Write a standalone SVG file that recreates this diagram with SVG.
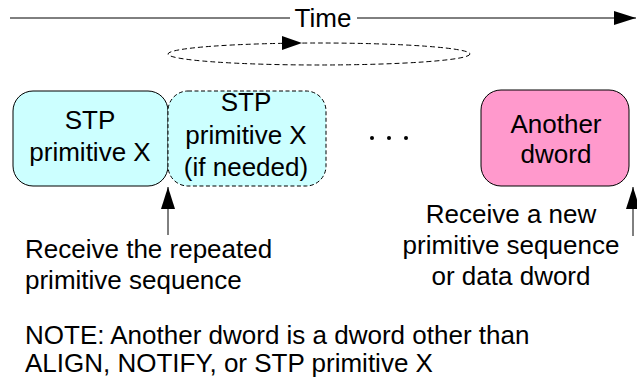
<svg xmlns="http://www.w3.org/2000/svg" width="637" height="381" viewBox="0 0 637 381">
<defs>
<style>
text{font-family:"Liberation Sans",Arial,sans-serif;font-size:26px;fill:#000}
.c{text-anchor:middle}
.ln{stroke:#000;stroke-width:1;fill:none}
.dash{stroke-dasharray:5,3}
.bdash{stroke-dasharray:4,2.5}
</style>
<marker id="ah" markerWidth="22" markerHeight="14" refX="22" refY="7" orient="auto" markerUnits="userSpaceOnUse">
<path d="M0,0 L22,7 L0,14 Z" fill="#000"/>
</marker>
</defs>
<rect width="637" height="381" fill="#fff"/>
<g id="connectors">
<line class="ln" x1="10" y1="18" x2="290" y2="18"/>
<line class="ln" x1="357" y1="18" x2="636" y2="18" marker-end="url(#ah)"/>
<ellipse class="ln dash" cx="319" cy="54" rx="151" ry="11"/>
<path d="M282,36 L302,43 L282,50 Z" fill="#000"/>
<line class="ln" x1="168" y1="235" x2="168" y2="187" marker-end="url(#ah)"/>
<line class="ln" x1="633" y1="236" x2="633" y2="187" marker-end="url(#ah)"/>
</g>
<g id="time-label"><text class="c" x="323" y="27">Time</text></g>
<g id="node-stp1">
<rect x="13" y="91" width="155" height="95" rx="20" fill="#ccffff" stroke="#000"/>
<text class="c" x="90" y="129">STP</text>
<text class="c" x="90" y="161">primitive X</text>
</g>
<g id="node-stp2">
<rect x="168" y="91" width="158" height="95" rx="20" fill="#ccffff" stroke="#000" class="bdash"/>
<text class="c" x="246" y="111">STP</text>
<text class="c" x="246" y="144">primitive X</text>
<text class="c" x="246" y="176">(if needed)</text>
</g>
<g id="dots">
<circle cx="372" cy="138" r="2"/>
<circle cx="389" cy="138" r="2"/>
<circle cx="406" cy="138" r="2"/>
</g>
<g id="node-another">
<rect x="481" y="90" width="148" height="96" rx="20" fill="#ff99cc" stroke="#000"/>
<text class="c" x="556" y="133">Another</text>
<text class="c" x="556" y="163">dword</text>
</g>
<g id="labels">
<text x="25" y="258">Receive the repeated</text>
<text x="25" y="289">primitive sequence</text>
<text class="c" x="511" y="223">Receive a new</text>
<text class="c" x="511" y="254">primitive sequence</text>
<text class="c" x="511" y="285">or data dword</text>
<text x="25" y="344">NOTE: Another dword is a dword other than</text>
<text x="25" y="372">ALIGN, NOTIFY, or STP primitive X</text>
</g>
</svg>
